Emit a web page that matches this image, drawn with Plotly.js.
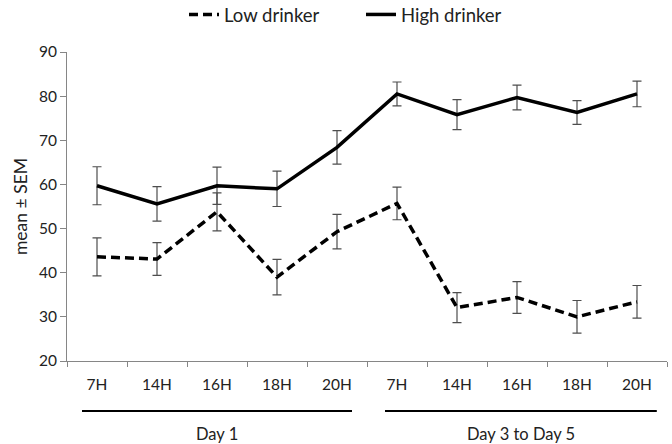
<!DOCTYPE html>
<html>
<head>
<meta charset="utf-8">
<script src="https://cdn.plot.ly/plotly-3.0.1.min.js"></script>
<style>html,body{margin:0;padding:0;background:#fff}#chart{width:672px;height:444px}</style>
</head>
<body>
<div id="chart"></div>
<script>
// Data
var positions = [0, 1, 2, 3, 4, 5, 6, 7, 8, 9];
var tickLabels = ["7H", "14H", "16H", "18H", "20H", "7H", "14H", "16H", "18H", "20H"];
var lowDrinker = [43.6, 43.1, 53.8, 39.0, 49.3, 55.7, 32.1, 34.4, 30.0, 33.4];
var lowSEM = [4.3, 3.7, 4.3, 4.0, 3.9, 3.7, 3.4, 3.6, 3.7, 3.7];
var highDrinker = [59.7, 55.6, 59.7, 59.0, 68.4, 80.5, 75.8, 79.7, 76.3, 80.5];
var highSEM = [4.3, 3.9, 4.2, 4.0, 3.8, 2.7, 3.4, 2.8, 2.7, 2.9];
var minorTicks = [-0.5, 0.5, 1.5, 2.5, 3.5, 4.5, 5.5, 6.5, 7.5, 8.5, 9.5];
var groupLabels = ["Day 1", "Day 3 to Day 5"];
var groupCenters = [2, 7.07];
var groupSpans = [[-0.25, 4.25], [4.8, 9.33]];

var FONT = "Lato, 'Liberation Sans', sans-serif";
var errStyle = {type: "data", visible: true, color: "#4d4d4d", thickness: 1.2, width: 4.5};

var traces = [
  {
    x: positions, y: lowDrinker, name: "Low drinker", type: "scatter", mode: "lines",
    line: {color: "#000", width: 3.5, dash: "9px,5px"},
    error_y: Object.assign({array: lowSEM}, errStyle)
  },
  {
    x: positions, y: highDrinker, name: "High drinker", type: "scatter", mode: "lines",
    line: {color: "#000", width: 3.5},
    error_y: Object.assign({array: highSEM}, errStyle)
  }
];

var shapes = groupSpans.map(function (s) {
  return {type: "line", xref: "x", yref: "paper", x0: s[0], x1: s[1], y0: -0.162, y1: -0.162,
          line: {color: "#000", width: 2}};
});
var annotations = groupLabels.map(function (t, i) {
  return {text: t, xref: "x", yref: "paper", x: groupCenters[i], y: -0.235,
          showarrow: false, xanchor: "center", yanchor: "middle",
          font: {family: FONT, size: 16.5, color: "#222"}};
});

var layout = {
  width: 672, height: 444,
  margin: {l: 67, r: 5, t: 52, b: 83, autoexpand: false},
  paper_bgcolor: "#fff", plot_bgcolor: "#fff",
  font: {family: FONT, size: 15.5, color: "#222"},
  showlegend: true,
  legend: {orientation: "h", x: 0.195, xanchor: "left", y: 1.12, yanchor: "middle",
           entrywidth: 132, entrywidthmode: "pixels",
           font: {family: FONT, size: 18.5, color: "#222"}, traceorder: "normal"},
  xaxis: {
    range: [-0.5, 9.5], tickmode: "array", tickvals: positions, ticktext: tickLabels,
    ticks: "outside", ticklen: 9, tickcolor: "rgba(0,0,0,0)",
    showline: true, linecolor: "#868686", linewidth: 1, showgrid: false, zeroline: false,
    minor: {tickmode: "array", tickvals: minorTicks, ticks: "outside", ticklen: 5, tickcolor: "#868686", tickwidth: 1, showgrid: false},
    fixedrange: true
  },
  yaxis: {
    range: [20, 90], tickmode: "linear", tick0: 20, dtick: 10,
    ticks: "outside", ticklen: 6, tickcolor: "#868686",
    showline: true, linecolor: "#868686", linewidth: 1, showgrid: false, zeroline: false,
    title: {text: "mean ± SEM", standoff: 6, font: {family: FONT, size: 17.5, color: "#222"}},
    fixedrange: true
  },
  shapes: shapes,
  annotations: annotations
};

Plotly.newPlot("chart", traces, layout, {displayModeBar: false, staticPlot: true});
</script>
</body>
</html>
